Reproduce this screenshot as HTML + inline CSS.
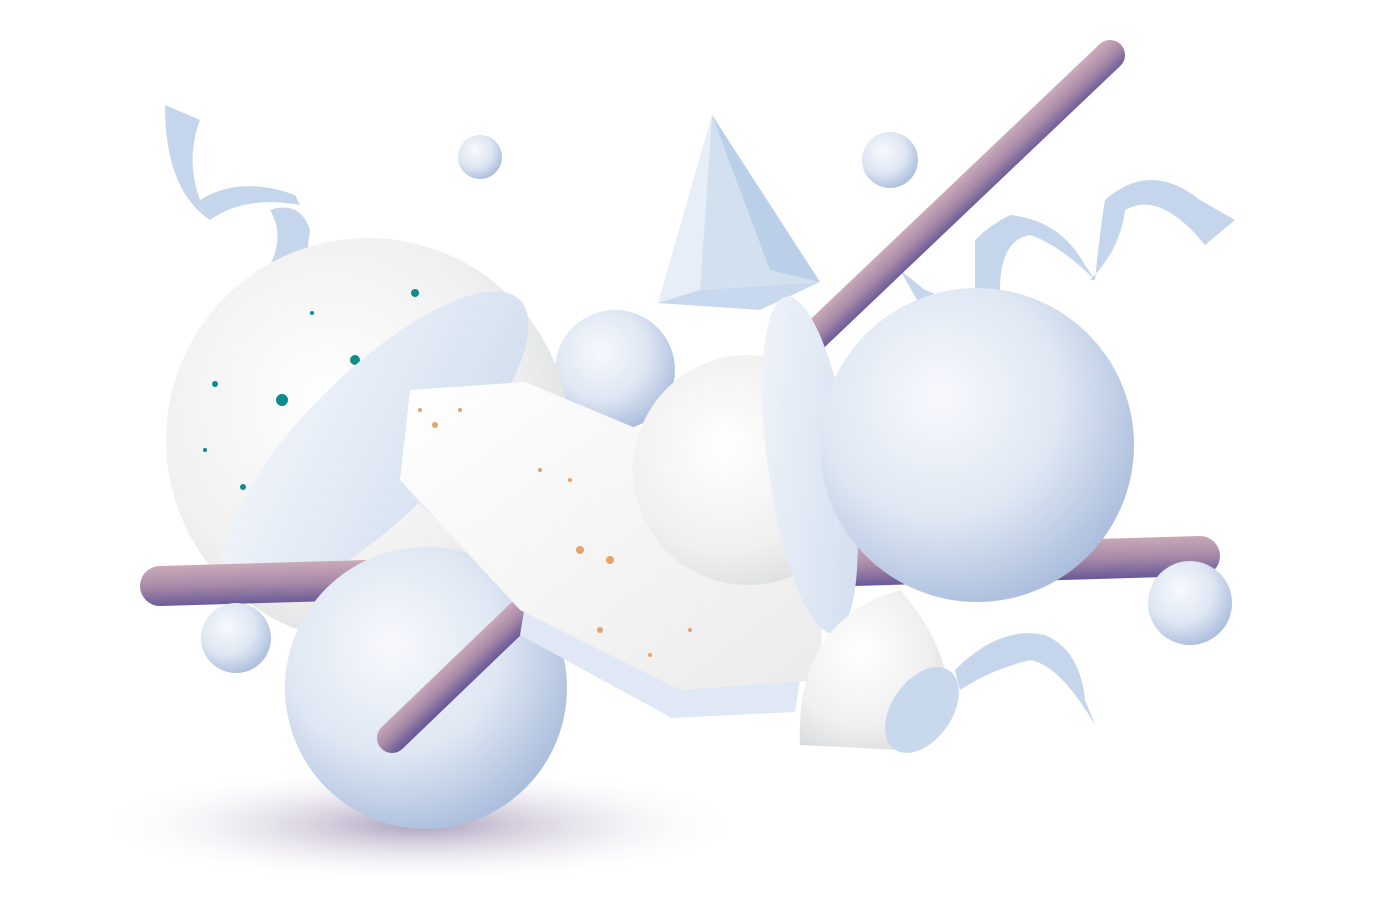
<!DOCTYPE html>
<html><head><meta charset="utf-8"><style>
html,body{margin:0;padding:0;background:#fff;width:1375px;height:917px;overflow:hidden}
svg{display:block}
</style></head><body>
<svg width="1375" height="917" viewBox="0 0 1375 917">
<defs>
<radialGradient id="sph" cx="0.38" cy="0.35" r="0.7"><stop offset="0" stop-color="#f7f9fd"/><stop offset="0.55" stop-color="#dfe7f3"/><stop offset="1" stop-color="#a9bcdc"/></radialGradient>
<radialGradient id="wht" cx="0.4" cy="0.4" r="0.75"><stop offset="0" stop-color="#ffffff"/><stop offset="0.6" stop-color="#f0f0f0"/><stop offset="1" stop-color="#d4d6d8"/></radialGradient>
<linearGradient id="face" x1="0" y1="0" x2="1" y2="1"><stop offset="0" stop-color="#f3f6fb"/><stop offset="1" stop-color="#cfdcee"/></linearGradient>
<linearGradient id="rodH" gradientUnits="userSpaceOnUse" x1="679.4" y1="551" x2="680.6" y2="591"><stop offset="0" stop-color="#c9a9b9"/><stop offset="0.5" stop-color="#a88aa8"/><stop offset="1" stop-color="#6a5a98"/></linearGradient>
<linearGradient id="rodD" gradientUnits="userSpaceOnUse" x1="740.7" y1="385.6" x2="761.3" y2="407.4"><stop offset="0" stop-color="#c9a9b9"/><stop offset="0.5" stop-color="#a88aa8"/><stop offset="1" stop-color="#6a5a98"/></linearGradient>
<linearGradient id="slab" x1="0" y1="0" x2="1" y2="1"><stop offset="0" stop-color="#ffffff"/><stop offset="1" stop-color="#ebebeb"/></linearGradient>
<radialGradient id="shadow" cx="0.5" cy="0.5" r="0.5"><stop offset="0" stop-color="#8f7fa6" stop-opacity="0.75"/><stop offset="1" stop-color="#ffffff" stop-opacity="0"/></radialGradient>
</defs>
<ellipse cx="420" cy="825" rx="330" ry="60" fill="url(#shadow)"/>
<g fill="#c5d5ec" stroke="none">
<path d="M165,105 L200,120 Q185,160 200,200 Q240,175 295,195 L300,205 Q245,195 210,220 Q165,190 165,105Z"/>
<path d="M270,210 Q300,200 310,230 L305,270 L270,265 Q285,235 270,210Z"/>
<path d="M975,240 Q990,225 1010,215 Q1060,220 1085,265 L1095,280 Q1060,245 1030,235 Q1000,240 1000,290 L975,290Z"/>
<path d="M1095,280 Q1100,230 1105,200 Q1150,160 1200,200 L1235,220 L1205,245 Q1160,190 1125,210 Q1120,250 1090,280Z"/>
<path d="M955,670 Q1000,625 1045,635 Q1080,650 1085,700 L1095,725 Q1060,665 1030,660 Q990,670 960,690Z"/>
<path d="M900,270 L925,290 L950,300 L920,305Z"/>
</g>
<line x1="392" y1="738" x2="1110" y2="55" stroke="url(#rodD)" stroke-width="30" stroke-linecap="round"/>
<circle cx="480" cy="157" r="22" fill="url(#sph)"/>
<circle cx="890" cy="160" r="28" fill="url(#sph)"/>
<g>
<polygon points="712,115 658,303 700,290" fill="#e8eef7"/>
<polygon points="712,115 700,290 820,282" fill="#d3e0f0"/>
<polygon points="712,115 770,270 820,282" fill="#bccfe8"/>
<polygon points="658,303 700,290 820,282 760,310" fill="#c8d8ee"/>
</g>
<circle cx="615" cy="370" r="60" fill="url(#sph)"/>
<g>
<circle cx="368" cy="440" r="202" fill="url(#wht)"/>
<g fill="#0f8b8d"><circle cx="415" cy="293" r="4"/><circle cx="355" cy="360" r="5"/><circle cx="282" cy="400" r="6"/><circle cx="215" cy="384" r="3"/><circle cx="243" cy="487" r="3"/><circle cx="240" cy="515" r="3"/><circle cx="312" cy="313" r="2"/><circle cx="345" cy="387" r="3"/><circle cx="205" cy="450" r="2"/></g>
<ellipse cx="375" cy="445" rx="205" ry="72" transform="rotate(-45 375 445)" fill="url(#face)"/>
</g>
<line x1="160" y1="586" x2="1200" y2="556" stroke="url(#rodH)" stroke-width="40" stroke-linecap="round"/>
<circle cx="236" cy="638" r="35" fill="url(#sph)"/>
<circle cx="1190" cy="603" r="42" fill="url(#sph)"/>
<circle cx="426" cy="688" r="141" fill="url(#sph)"/>
<line x1="392" y1="738" x2="520" y2="615" stroke="url(#rodD)" stroke-width="30" stroke-linecap="round"/>
<g>
<polygon points="390,480 405,490 525,605 520,635 672,718 795,712 800,680 680,690" fill="#dfe8f4"/>
<polygon points="410,390 525,382 820,505 822,680 680,690 520,610 400,480" fill="url(#slab)"/>
<g fill="#e3a36a"><circle cx="435" cy="425" r="3"/><circle cx="460" cy="410" r="2"/><circle cx="580" cy="550" r="4"/><circle cx="610" cy="560" r="4"/><circle cx="600" cy="630" r="3"/><circle cx="650" cy="655" r="2"/><circle cx="540" cy="470" r="2"/><circle cx="420" cy="410" r="2"/><circle cx="690" cy="630" r="2"/><circle cx="570" cy="480" r="2"/></g>
</g>
<g>
<circle cx="748" cy="470" r="115" fill="url(#wht)"/>
<ellipse cx="810" cy="465" rx="42" ry="170" transform="rotate(-8 810 465)" fill="url(#face)"/>
</g>
<circle cx="977" cy="445" r="157" fill="url(#sph)"/>
<g>
<path d="M800,745 Q795,620 900,590 Q945,640 950,700 L900,750 Z" fill="url(#wht)"/>
<ellipse cx="922" cy="710" rx="30" ry="48" transform="rotate(35 922 710)" fill="#c8d9ee"/>
</g>
</svg>
</body></html>
